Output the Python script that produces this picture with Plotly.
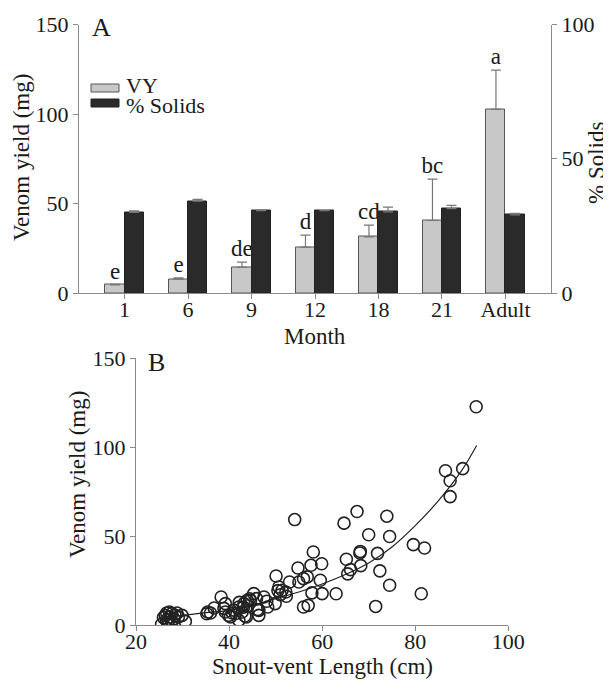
import plotly.graph_objects as go

# The page body has an 8px margin, so the figure is made 8px smaller than the window
# and all reference pixel positions are shifted by 8px.
OFF = 8
W, H = 611 - OFF, 680 - OFF

# ---------------- Panel A data ----------------
months = ["1", "6", "9", "12", "18", "21", "Adult"]
vy_mean = [4.5, 7.8, 14.5, 25.6, 31.4, 40.5, 102.6]
vy_err = [0.3, 0.6, 2.8, 6.7, 6.5, 23.1, 21.9]
solids_mean = [30.0, 34.2, 30.7, 30.7, 30.2, 31.4, 29.1]
solids_err = [0.6, 0.7, 0.2, 0.0, 1.8, 1.2, 0.6]
letters = ["e", "e", "de", "d", "cd", "bc", "a"]
legend_labels = ["VY", "% Solids"]

# ---------------- Panel B data ----------------
svl = [25.5, 26.3, 26.6, 27.2, 27.7, 27.0, 27.7, 28.4, 29.1, 29.9, 30.6, 28.1, 25.9, 27.3, 28.8, 26.5, 26.8,
       35.4, 36.0, 36.8, 38.3, 39.2, 39.2, 39.9, 40.3, 41.4, 42.1, 42.1, 42.8, 43.2, 43.7, 43.9, 44.6, 45.3,
       45.9, 46.4, 46.4, 47.5, 48.3, 48.1, 49.9, 50.1, 50.7, 51.0, 51.4, 52.2, 52.3, 53.0, 54.1, 54.8, 55.0,
       56.0, 56.8, 56.0, 57.0, 57.6, 58.1, 57.8, 59.9, 59.6, 60.0, 35.2, 44.4, 43.1, 40.7, 42.2, 43.4, 46.1,
       41.0, 44.0, 50.5, 38.9,
       63.0, 64.7, 65.2, 65.5, 66.1, 67.5, 68.1, 68.2, 68.3, 70.0, 71.5, 71.9, 72.4, 73.9, 74.5, 74.5, 79.6,
       81.3, 82.0, 86.5, 87.5, 87.5, 90.2, 93.1]
yield_mg = [0.6, 5.6, 6.9, 7.5, 6.6, 2.8, 1.9, 5.6, 4.7, 5.6, 2.2, 3.7, 4.3, 4.7, 6.9, 3.0, 1.2,
            7.5, 6.9, 9.7, 15.9, 12.2, 7.5, 5.6, 4.7, 6.6, 2.8, 10.3, 7.5, 12.2, 4.7, 14.0, 14.0, 17.8,
            15.0, 8.4, 5.6, 15.9, 10.3, 13.5, 12.2, 27.7, 21.5, 17.2, 19.7, 18.7, 16.3, 24.3, 59.4, 32.2, 24.3,
            26.2, 27.2, 10.3, 11.2, 33.7, 41.2, 18.2, 34.6, 25.3, 17.8, 6.5, 14.9, 10.2, 6.9, 12.9, 5.2, 8.8,
            8.5, 11.0, 19.5, 9.5,
            17.7, 57.4, 37.1, 28.9, 31.3, 63.9, 40.6, 41.5, 33.5, 50.9, 10.6, 40.4, 30.6, 61.3, 49.9, 22.5, 45.3,
            17.7, 43.4, 86.8, 81.2, 72.3, 88.0, 122.8]
# fitted curve
fit_x = [26, 30, 35, 40, 45, 50, 55, 60, 65, 70, 75, 80, 85, 90, 93.2]
fit_y = [4.8, 5.6, 7.1, 8.4, 11.2, 15.0, 18.7, 23.2, 28.5, 35.0, 44.0, 56.0, 70.0, 87.0, 101.0]

FONT = "Liberation Serif"
TXT = "#1a1a1a"
AX = "#8a8a8a"
GREY_BAR = "#c8c8c8"
BLACK_BAR = "#2a2a2a"

xi = list(range(len(months)))

fig = go.Figure()

fig.add_trace(go.Bar(
    x=xi, y=vy_mean, width=0.3, offset=-0.3,
    marker=dict(color=GREY_BAR, line=dict(color="#555555", width=1)),
    error_y=dict(type="data", array=vy_err, arrayminus=[0] * len(vy_err), symmetric=False,
                 color="#777777", thickness=1.2, width=5),
    xaxis="x", yaxis="y", showlegend=False, name=legend_labels[0]))

fig.add_trace(go.Bar(
    x=xi, y=solids_mean, width=0.3, offset=0,
    marker=dict(color=BLACK_BAR, line=dict(color="#222222", width=1)),
    error_y=dict(type="data", array=solids_err, arrayminus=[0] * len(solids_err), symmetric=False,
                 color="#777777", thickness=1.2, width=5),
    xaxis="x", yaxis="y2", showlegend=False, name=legend_labels[1]))

fig.add_trace(go.Scatter(
    x=[i - 0.15 for i in xi], y=[m + e for m, e in zip(vy_mean, vy_err)],
    mode="text", text=letters, textposition="top center",
    textfont=dict(family=FONT, size=23, color=TXT),
    xaxis="x", yaxis="y", showlegend=False, hoverinfo="skip"))

fig.add_trace(go.Scatter(
    x=fit_x, y=fit_y, mode="lines", line=dict(color="#222222", width=1.2, shape="spline"),
    xaxis="x3", yaxis="y3", showlegend=False, hoverinfo="skip"))

fig.add_trace(go.Scatter(
    x=svl, y=yield_mg, mode="markers",
    marker=dict(symbol="circle-open", size=12, color="#222222", line=dict(width=1.6, color="#222222")),
    xaxis="x3", yaxis="y3", showlegend=False))


def px_x(p):
    return (p - OFF) / W


def px_y(p):
    return 1 - (p - OFF) / H


axis_common = dict(showgrid=False, zeroline=False, showline=True, linecolor=AX, linewidth=1.2,
                   ticks="outside", ticklen=5, tickcolor=AX, tickwidth=1.2, automargin=False,
                   tickfont=dict(family=FONT, size=22, color=TXT))

fig.update_layout(
    width=W, height=H,
    margin=dict(l=0, r=0, t=0, b=0, pad=0),
    paper_bgcolor="white", plot_bgcolor="rgba(0,0,0,0)",
    font=dict(family=FONT, color=TXT),
    bargap=0,
    xaxis=dict(domain=[px_x(79), px_x(551)], range=[-0.717, 6.717], anchor="y",
               tickmode="array", tickvals=xi, ticktext=months, ticklabelstandoff=-9, **axis_common),
    yaxis=dict(domain=[px_y(293), px_y(24.5)], range=[0, 150], anchor="x",
               tickvals=[0, 50, 100, 150], **axis_common),
    yaxis2=dict(domain=[px_y(293), px_y(24.5)], range=[0, 100], anchor="x", overlaying="y",
                side="right", tickvals=[0, 50, 100], **axis_common),
    xaxis3=dict(domain=[px_x(136), px_x(508.3)], range=[20, 100], anchor="y3",
                tickvals=[20, 40, 60, 80, 100], ticklabelstandoff=-9, **axis_common),
    yaxis3=dict(domain=[px_y(625.3), px_y(358.3)], range=[0, 150], anchor="x3",
                tickvals=[0, 50, 100, 150], **axis_common),
)

annotations = [
    dict(text="Venom yield (mg)", x=px_x(21), y=px_y(158), textangle=-90, font=dict(size=23)),
    dict(text="% Solids", x=px_x(597), y=px_y(163), textangle=-90, font=dict(size=23)),
    dict(text="Month", x=px_x(315), y=px_y(336), font=dict(size=23)),
    dict(text="A", x=px_x(101), y=px_y(27), font=dict(size=26)),
    dict(text="Venom yield (mg)", x=px_x(77), y=px_y(475), textangle=-90, font=dict(size=23)),
    dict(text="Snout-vent Length (cm)", x=px_x(322), y=px_y(666), font=dict(size=23)),
    dict(text="B", x=px_x(156), y=px_y(362), font=dict(size=26)),
    dict(text=legend_labels[0], x=px_x(124), y=px_y(85), xanchor="left", font=dict(size=22)),
    dict(text=legend_labels[1], x=px_x(124), y=px_y(105), xanchor="left", font=dict(size=22)),
]
for a in annotations:
    a.setdefault("xanchor", "center")
    a.update(xref="paper", yref="paper", yanchor="middle", showarrow=False)
    a["font"] = dict(family=FONT, color=TXT, **a["font"])
fig.update_layout(annotations=annotations)

fig.update_layout(shapes=[
    dict(type="rect", xref="paper", yref="paper", x0=px_x(91), x1=px_x(119), y0=px_y(92), y1=px_y(84),
         fillcolor=GREY_BAR, line=dict(color="#555555", width=1)),
    dict(type="rect", xref="paper", yref="paper", x0=px_x(91), x1=px_x(119), y0=px_y(107), y1=px_y(99),
         fillcolor=BLACK_BAR, line=dict(color="#222222", width=1)),
])

fig.write_html("out.html")
